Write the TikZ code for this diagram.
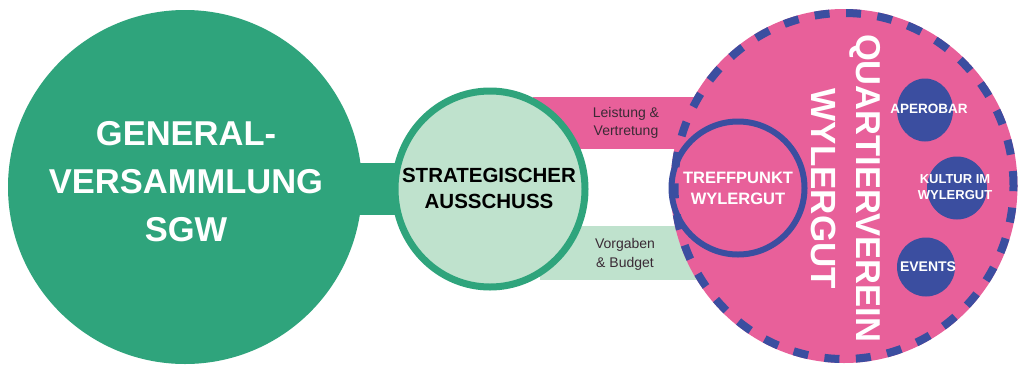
\documentclass[tikz,border=0pt]{standalone}
\usepackage{fontspec}
\setmainfont{Liberation Sans}
\usetikzlibrary{shapes.geometric,backgrounds}
\definecolor{gvgreen}{HTML}{2FA47C}
\definecolor{lightgreen}{HTML}{BFE2CD}
\definecolor{qpink}{HTML}{E8609A}
\definecolor{qblue}{HTML}{3B4EA0}
\definecolor{bartext}{HTML}{3A2A35}
\tikzset{
  circ/.style={ellipse, inner sep=0pt},
  smallblue/.style={circ, fill=qblue},
  bartxt/.style={align=center, text=bartext, font={\fontsize{14}{18.5}\selectfont}},
  whitebold/.style={align=center, text=white, font=\bfseries},
}
\begin{document}
\begin{tikzpicture}[x=1pt,y=-1pt]
\useasboundingbox (0,0) rectangle (1022,365);
% main circles
\node[circ, fill=gvgreen, minimum width=354pt, minimum height=354pt] (gv) at (185,187) {};
\node[circ, fill=lightgreen, draw=gvgreen, line width=7pt, minimum width=190pt, minimum height=196pt] (sa) at (490,189) {};
\node[circ, fill=qpink, minimum width=347pt, minimum height=354pt] (qv) at (844,186) {};
\draw[qblue, line width=8pt, dash pattern=on 15pt off 16.5pt] (qv.center) ellipse [x radius=169.5pt, y radius=173pt];
% connectors (behind)
\begin{scope}[on background layer]
  \fill[white] (0,0) rectangle (1022,365);
  \draw[gvgreen, line width=52pt] (gv.center |- 0,189) -- (sa.center);
  \fill[qpink] (533,97) rectangle (qv.center |- 0,149);
  \fill[lightgreen] (540,226) rectangle (qv.center |- 0,280);
\end{scope}
% inner circles
\node[circ, draw=qblue, line width=6pt, minimum width=133pt, minimum height=133pt] (tp) at (738,188) {};
\node[smallblue, minimum width=56pt, minimum height=63pt] (ap) at (925,110) {};
\node[smallblue, minimum width=60pt, minimum height=63pt] (ku) at (957,188) {};
\node[smallblue, minimum width=58pt, minimum height=59pt] (ev) at (926,267) {};
% texts
\node[align=center, text=white, font={\bfseries\fontsize{34.5}{48}\selectfont}] (gvt) at (186,182) {GENERAL-\\VERSAMMLUNG\\SGW};
\node[align=center, font={\bfseries\fontsize{20.5}{26}\selectfont}] (sat) at (489,188) {STRATEGISCHER\\AUSSCHUSS};
\node[bartxt] (lv) at (626,123) {Leistung \&\\Vertretung};
\node[bartxt] (vb) at (625,254.5) {Vorgaben\\\& Budget};
\node[whitebold, font={\bfseries\fontsize{16.5}{21}\selectfont}] (tpt) at (738,188) {TREFFPUNKT\\WYLERGUT};
\node[text=white, rotate=-90, font={\bfseries\fontsize{34.5}{34}\selectfont}] (q1) at (865,188) {QUARTIERVEREIN};
\node[text=white, rotate=-90, font={\bfseries\fontsize{35}{34}\selectfont}] (q2) at (824,189) {WYLERGUT};
\node[whitebold, font={\bfseries\fontsize{13.5}{15}\selectfont}] (apt) at (929,109) {APEROBAR};
\node[whitebold, font={\bfseries\fontsize{13}{16.5}\selectfont}] (kut) at (955,187) {KULTUR IM\\WYLERGUT};
\node[whitebold, font={\bfseries\fontsize{14}{15}\selectfont}] (evt) at (928,267) {EVENTS};
\end{tikzpicture}
\end{document}
